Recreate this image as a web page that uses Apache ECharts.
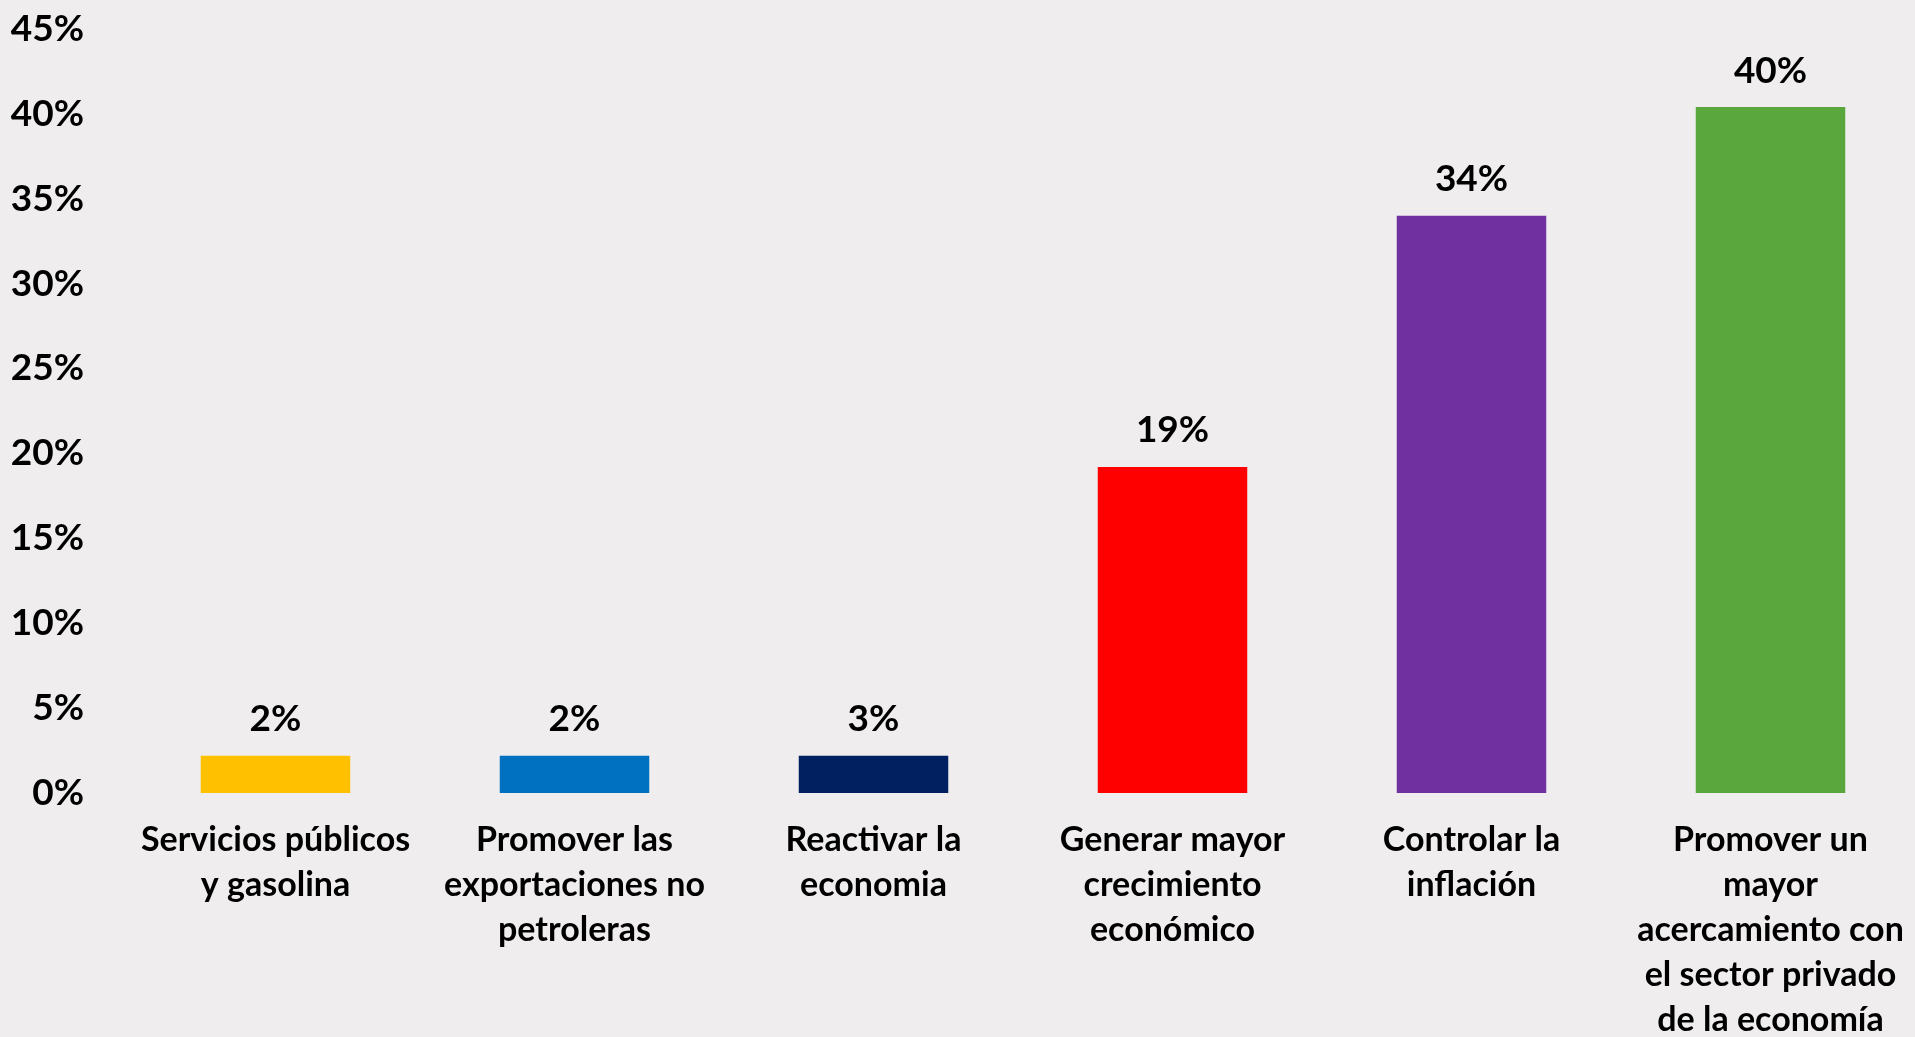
<!DOCTYPE html>
<html>
<head>
<meta charset="utf-8">
<script src="https://cdn.jsdelivr.net/npm/echarts@6/dist/echarts.min.js"></script>
<style>
  html, body { margin: 0; padding: 0; background: #efedee; overflow: hidden; }
  #chart { width: 1915px; height: 1037px; }
</style>
</head>
<body>
<div id="chart"></div>
<script>
const FONT_FAMILY = "Lato, 'Open Sans', sans-serif"

// categories, with the line breaks used in the picture
const categories = [
  'Servicios públicos\ny gasolina',
  'Promover las\nexportaciones no\npetroleras',
  'Reactivar la\neconomia',
  'Generar mayor\ncrecimiento\neconómico',
  'Controlar la\ninflación',
  'Promover un\nmayor\nacercamiento con\nel sector privado\nde la economía',
]
// bar heights as drawn (percent)
const values = [2.2, 2.2, 2.2, 19.2, 34.0, 40.4]
// value labels printed above the bars
const valueLabels = ['2%', '2%', '3%', '19%', '34%', '40%']
const barColors = ['#ffc000', '#0070c0', '#002060', '#ff0000', '#7030a0', '#5aa73d']

const chart = echarts.init(document.getElementById('chart'))

chart.setOption({
  backgroundColor: '#efedee',
  animation: false,
  grid: {
    left: 126, top: 29, width: 1794, height: 764,
    containLabel: false,
    outerBoundsMode: 'none',
  },
  xAxis: {
    type: 'category',
    data: categories,
    axisLine: { show: false },
    axisTick: { show: false },
    axisLabel: {
      interval: 0,
      margin: 25,
      fontFamily: FONT_FAMILY,
      fontWeight: 'bold',
      fontSize: 34,
      lineHeight: 45,
      color: '#000',
    },
  },
  yAxis: {
    type: 'value',
    min: 0,
    max: 45,
    interval: 5,
    splitLine: { show: false },
    axisLine: { show: false },
    axisTick: { show: false },
    axisLabel: {
      margin: 42,
      formatter: '{value}%',
      fontFamily: FONT_FAMILY,
      fontWeight: 'bold',
      fontSize: 37,
      color: '#000',
    },
  },
  series: [
    {
      type: 'bar',
      barCategoryGap: '50%',
      data: values.map((v, i) => ({ value: v, itemStyle: { color: barColors[i] } })),
      label: {
        show: true,
        position: 'top',
        distance: 18,
        formatter: p => valueLabels[p.dataIndex],
        fontFamily: FONT_FAMILY,
        fontWeight: 'bold',
        fontSize: 37,
        color: '#000',
      },
    },
  ],
})
</script>
</body>
</html>
